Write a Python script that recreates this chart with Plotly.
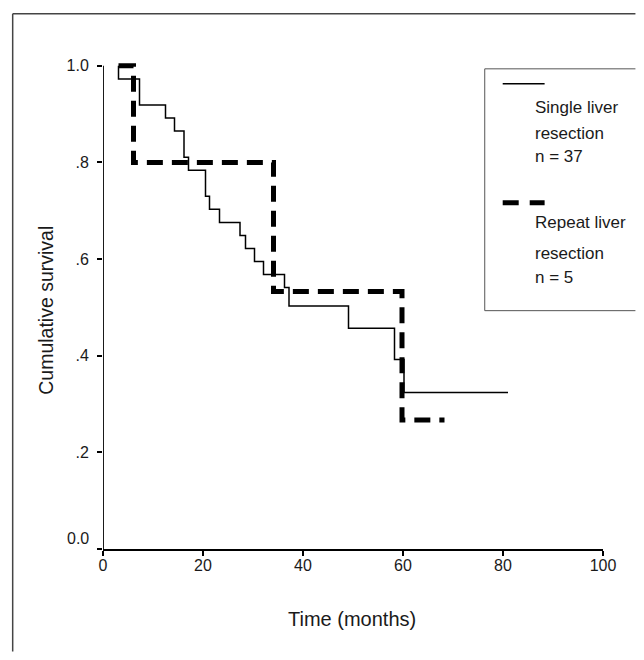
import plotly.graph_objects as go

# ---- data ----
single_time = [3.1, 3.1, 7.3, 12.5, 14.3, 16.2, 17.1, 20.5, 21.3, 23.3, 27.4,
               28.5, 30.3, 32.1, 36.3, 37.2, 49.1, 58.3, 60.2, 81.0]
single_surv = [1.0, 0.973, 0.919, 0.892, 0.865, 0.811, 0.784, 0.730, 0.703,
               0.676, 0.649, 0.622, 0.595, 0.568, 0.541, 0.503, 0.457, 0.392,
               0.324, 0.324]

repeat_time = [3.1, 6.1, 34.1, 59.8, 68.3]
repeat_surv = [1.0, 0.8, 0.533, 0.267, 0.267]

x_ticks = [0, 20, 40, 60, 80, 100]
y_ticks = [0.0, 0.2, 0.4, 0.6, 0.8, 1.0]
y_tick_labels = ["0.0", ".2", ".4", ".6", ".8", "1.0"]

legend_single = ["Single liver", "resection", "n = 37"]
legend_repeat = ["Repeat liver", "resection", "n = 5"]

FONT = "Liberation Sans, Arial, sans-serif"
TXT = "#1a1a1a"

fig = go.Figure()
fig.add_trace(go.Scatter(x=single_time, y=single_surv, mode="lines",
                         line=dict(shape="hv", color="black", width=1.5),
                         showlegend=False, hoverinfo="skip"))
fig.add_trace(go.Scatter(x=repeat_time, y=repeat_surv, mode="lines",
                         line=dict(shape="hv", color="black", width=5, dash="16px,9px"),
                         showlegend=False, hoverinfo="skip"))

# page is offset by the 8px body margin
OFF = 8
W, H = 644 - 2 * OFF, 660 - 2 * OFF
# plot area in page coordinates
L, R = 102.5, 603.5
Y1 = 66.0          # page y of survival 1.0
B = 549.5          # page y of survival 0.0
YMAX = 1.01
T = B - (B - Y1) * YMAX
XEDGE = OFF + W    # right edge of the figure on the page


def px(xp):
    return (xp - L) / (R - L)


def py(yp):
    return (B - yp) / (B - T)


def seg(x0, y0, x1, y1, color, width, dash=None):
    ln = dict(color=color, width=width)
    if dash:
        ln["dash"] = dash
    return dict(type="line", xref="paper", yref="paper",
                x0=px(x0), y0=py(y0), x1=px(x1), y1=py(y1), line=ln)


shapes = [
    # outer frame (runs off the right and bottom edges)
    seg(12, 14, XEDGE, 14, "#444", 1.5),
    seg(12, 14, 12, OFF + H, "#444", 1.5),
    # y axis line (0 to 1)
    dict(type="line", xref="x", yref="y", x0=0, x1=0, y0=0, y1=1,
         line=dict(color="black", width=1.8)),
    # legend box (runs off the right edge)
    seg(485, 69, XEDGE, 69, "#555", 1),
    seg(485, 69, 485, 311, "#555", 1),
    seg(485, 311, XEDGE, 311, "#555", 1),
    # legend samples
    seg(503, 84, 545, 84, "black", 1.5),
    seg(503, 203, 545, 203, "black", 5, "16px,11px"),
]

annotations = []
for txt, yy in zip(legend_single, [108, 134, 157]):
    annotations.append(dict(text=txt, xref="paper", yref="paper", x=px(533), y=py(yy),
                            xanchor="left", yanchor="middle", showarrow=False,
                            font=dict(family=FONT, size=17, color=TXT)))
for txt, yy in zip(legend_repeat, [223, 254, 278]):
    annotations.append(dict(text=txt, xref="paper", yref="paper", x=px(533), y=py(yy),
                            xanchor="left", yanchor="middle", showarrow=False,
                            font=dict(family=FONT, size=17, color=TXT)))
annotations.append(dict(text="Cumulative survival", xref="paper", yref="paper",
                        x=px(45.5), y=py(311), textangle=-90, showarrow=False,
                        xanchor="center", yanchor="middle",
                        font=dict(family=FONT, size=19.5, color=TXT)))
annotations.append(dict(text="Time (months)", xref="paper", yref="paper",
                        x=px(351.5), y=py(620), showarrow=False,
                        xanchor="center", yanchor="middle",
                        font=dict(family=FONT, size=20, color=TXT)))
# the "0.0" label sits a little above its tick in the reference
annotations.append(dict(text=y_tick_labels[0], xref="paper", yref="paper",
                        x=px(90.5), y=py(539), showarrow=False,
                        xanchor="right", yanchor="middle",
                        font=dict(family=FONT, size=16, color=TXT)))
y_tick_text = [""] + y_tick_labels[1:]

fig.update_layout(
    width=W, height=H,
    margin=dict(l=L - OFF, r=W - (R - OFF), t=T - OFF, b=H - (B - OFF), pad=0),
    paper_bgcolor="white", plot_bgcolor="white",
    shapes=shapes, annotations=annotations,
    font=dict(family=FONT, color=TXT),
    xaxis=dict(range=[0, 100], tickvals=x_ticks, ticks="outside", ticklen=5,
               tickwidth=1.5, tickcolor="black", showline=True, linecolor="black",
               linewidth=1.8, showgrid=False, zeroline=False,
               ticklabelstandoff=-4,
               tickfont=dict(family=FONT, size=16, color=TXT)),
    yaxis=dict(range=[0, YMAX], tickvals=y_ticks, ticktext=y_tick_text,
               ticks="outside", ticklen=5, tickwidth=1.5, tickcolor="black",
               showline=False, showgrid=False, zeroline=False,
               ticklabelstandoff=5,
               tickfont=dict(family=FONT, size=16, color=TXT)),
)

fig.write_html("out.html")
